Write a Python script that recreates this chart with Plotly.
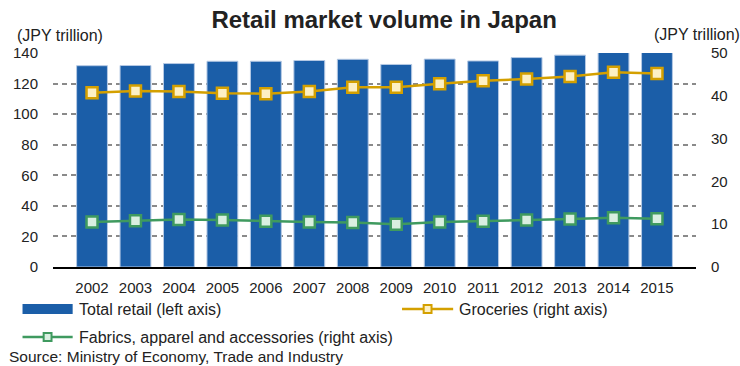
import plotly.graph_objects as go

# Retail market volume in Japan, JPY trillion
years = [str(y) for y in range(2002, 2016)]
total_retail = [131.7, 131.8, 133.1, 134.6, 134.6, 135.1, 135.9, 132.5, 136.0, 134.8, 137.0, 138.6, 141.2, 140.7]
groceries = [40.7, 41.1, 41.0, 40.6, 40.5, 41.0, 42.0, 42.0, 42.8, 43.5, 43.9, 44.5, 45.5, 45.2]
fabrics = [10.5, 10.8, 11.1, 11.0, 10.7, 10.5, 10.4, 10.0, 10.5, 10.7, 11.0, 11.2, 11.5, 11.3]

left_ticks = list(range(0, 141, 20))
right_ticks = list(range(0, 51, 10))

W, H = 740, 366
ML, MR, MT, MB = 53, 33, 53, 99
PW, PH = W - ML - MR, H - MT - MB

BLUE = "#1b5ea8"
GOLD = "#d4a000"
GOLD_FILL = "#fdf0c4"
GREEN = "#3f9a5f"
GREEN_FILL = "#d9efe1"
FONT = "Liberation Sans, Arial, sans-serif"
TXT = "#222"


def px(x):
    return (x - ML) / PW


def py(y):
    return (H - MB - y) / PH


fig = go.Figure()
fig.add_trace(go.Bar(
    x=years, y=total_retail, name="Total retail (left axis)",
    marker=dict(color=BLUE, line=dict(color="#b5c9e4", width=1)),
    showlegend=False,
))
fig.add_trace(go.Scatter(
    x=years, y=groceries, yaxis="y2", mode="lines+markers",
    name="Groceries (right axis)",
    line=dict(color=GOLD, width=2.5),
    marker=dict(symbol="square", size=11, color=GOLD_FILL, line=dict(color=GOLD, width=2.5)),
    showlegend=False,
))
fig.add_trace(go.Scatter(
    x=years, y=fabrics, yaxis="y2", mode="lines+markers",
    name="Fabrics, apparel and accessories (right axis)",
    line=dict(color=GREEN, width=2.5),
    marker=dict(symbol="square", size=11, color=GREEN_FILL, line=dict(color=GREEN, width=2.5)),
    showlegend=False,
))

shapes = []
annotations = []

# Legend: bar swatch
shapes.append(dict(type="rect", xref="paper", yref="paper",
                   x0=px(22), x1=px(73), y0=py(304), y1=py(314),
                   fillcolor=BLUE, line=dict(width=0)))
annotations.append(dict(xref="paper", yref="paper", x=px(77), y=py(309),
                        text="Total retail (left axis)", showarrow=False,
                        xanchor="left", yanchor="middle",
                        font=dict(size=16, color=TXT, family=FONT)))


def line_key(x0, x1, yc, color, fill, label):
    shapes.append(dict(type="line", xref="paper", yref="paper",
                       x0=px(x0), x1=px(x1), y0=py(yc), y1=py(yc),
                       line=dict(color=color, width=2.5)))
    xm = (x0 + x1) / 2
    shapes.append(dict(type="rect", xref="paper", yref="paper",
                       x0=px(xm - 4), x1=px(xm + 4), y0=py(yc - 4), y1=py(yc + 4),
                       fillcolor=fill, line=dict(color=color, width=2)))
    annotations.append(dict(xref="paper", yref="paper", x=px(x1 + 4), y=py(yc),
                            text=label, showarrow=False,
                            xanchor="left", yanchor="middle",
                            font=dict(size=16, color=TXT, family=FONT)))


line_key(408, 460, 309, GOLD, GOLD_FILL, "Groceries (right axis)")
line_key(22, 73, 337, GREEN, GREEN_FILL, "Fabrics, apparel and accessories (right axis)")

# Axis unit labels and source
annotations.append(dict(xref="paper", yref="paper", x=px(14), y=py(35),
                        text="(JPY trillion)", showarrow=False,
                        xanchor="left", yanchor="middle",
                        font=dict(size=16, color=TXT, family=FONT)))
annotations.append(dict(xref="paper", yref="paper", x=px(662), y=py(34),
                        text="(JPY trillion)", showarrow=False,
                        xanchor="left", yanchor="middle",
                        font=dict(size=16, color=TXT, family=FONT)))
annotations.append(dict(xref="paper", yref="paper", x=px(6), y=py(356),
                        text="Source: Ministry of Economy, Trade and Industry", showarrow=False,
                        xanchor="left", yanchor="middle",
                        font=dict(size=15.5, color=TXT, family=FONT)))

fig.update_layout(
    width=W, height=H,
    margin=dict(l=ML, r=MR, t=MT, b=MB),
    paper_bgcolor="white", plot_bgcolor="white",
    font=dict(family=FONT, size=15, color=TXT),
    title=dict(text="<b>Retail market volume in Japan</b>", x=0.515, xref="paper",
               y=1 - 20 / H, yref="container", xanchor="center", yanchor="middle",
               font=dict(size=24, color=TXT, family=FONT)),
    bargap=0.29,
    showlegend=False,
    xaxis=dict(
        type="category", showgrid=False, showline=True, linecolor="black", linewidth=2,
        ticks="outside", ticklen=6, tickcolor="rgba(0,0,0,0)",
        tickfont=dict(size=15, family=FONT, color=TXT),
    ),
    yaxis=dict(
        range=[0, 140], tickvals=left_ticks, showline=False, zeroline=False,
        showgrid=True, gridcolor="#8a8a8a", gridwidth=1.5, griddash="5px,4px",
        ticks="outside", ticklen=11, tickcolor="rgba(0,0,0,0)",
        tickfont=dict(size=15, family=FONT, color=TXT),
    ),
    yaxis2=dict(
        range=[0, 50], tickvals=right_ticks, overlaying="y", side="right",
        showgrid=False, zeroline=False, showline=False,
        ticks="outside", ticklen=11, tickcolor="rgba(0,0,0,0)",
        tickfont=dict(size=15, family=FONT, color=TXT),
    ),
    shapes=shapes,
    annotations=annotations,
)

fig.write_html("out.html")
